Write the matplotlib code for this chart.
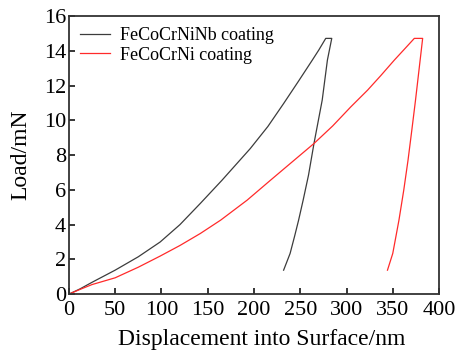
import matplotlib
matplotlib.use("Agg")
import matplotlib.pyplot as plt

# FeCoCrNiNb coating: load -> hold -> unload
nb_depth = [0, 12, 25, 50, 75, 98.6, 120, 142, 165.5, 196, 215, 232, 248, 263, 270, 277.5,
            284, 279.3, 273.7, 264.8, 258.9, 253.1, 248.2, 243.9, 239.0, 232.0]
nb_load = [0, 0.3, 0.68, 1.38, 2.15, 3.0, 4.0, 5.22, 6.56, 8.38, 9.65, 10.97, 12.25, 13.47, 14.05, 14.72,
           14.72, 13.47, 11.17, 8.67, 6.85, 5.41, 4.26, 3.34, 2.34, 1.38]

# FeCoCrNi coating
ni_depth = [0, 12, 25, 50, 75, 98.6, 120, 142, 164, 192.6, 217.9, 241, 264.8, 285,
            304.6, 322.7, 337, 351.6, 362, 373.2,
            382.2, 374.5, 370.5, 366.4, 361.8, 356.6, 353.4, 349.9, 344.2]
ni_load = [0, 0.27, 0.55, 0.94, 1.55, 2.19, 2.8, 3.49, 4.26, 5.41, 6.56, 7.6, 8.67, 9.68,
           10.78, 11.74, 12.58, 13.47, 14.07, 14.72,
           14.72, 11.17, 9.44, 7.71, 5.99, 4.26, 3.34, 2.34, 1.38]

labels = ["FeCoCrNiNb coating", "FeCoCrNi coating"]
xticks = [0, 50, 100, 150, 200, 250, 300, 350, 400]
yticks = [0, 2, 4, 6, 8, 10, 12, 14, 16]

plt.rcParams['font.family'] = ['Liberation Serif', 'DejaVu Serif']

fig = plt.figure(figsize=(4.56, 3.51), dpi=100)
ax = fig.add_axes([0.151, 0.162, 0.812, 0.792])

ax.plot(nb_depth, nb_load, color='#3c3c3c', lw=0.9, label=labels[0])
ax.plot(ni_depth, ni_load, color='#ff2a2a', lw=0.9, label=labels[1])

ax.set_xlim(0, 400)
ax.set_ylim(0, 16)
ax.set_xticks(xticks)
ax.set_yticks(yticks)
ax.tick_params(direction='in', length=4, width=1.1, labelsize=16)
ax.tick_params(axis='x', pad=5)
ax.tick_params(axis='y', pad=2)
for s in ax.spines.values():
    s.set_linewidth(1.3)
    s.set_color('#333333')

ax.set_xlabel("Displacement into Surface/nm", fontsize=17)
ax.set_ylabel("Load/mN", fontsize=17)
ax.xaxis.set_label_coords(0.522, -0.125)
ax.yaxis.set_label_coords(-0.1, 0.5)

ax.legend(loc='upper left', frameon=False, fontsize=13, handlelength=1.7,
          handletextpad=0.55, labelspacing=0.15, borderaxespad=0.2,
          bbox_to_anchor=(0.0, 1.0))

fig.savefig("out.png", dpi=100)
